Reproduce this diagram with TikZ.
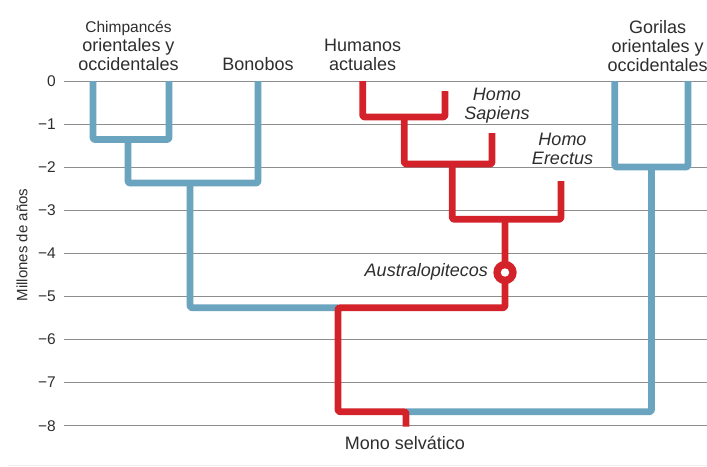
\documentclass[tikz,border=0pt]{standalone}
\usepackage{fontspec}
\setmainfont{Liberation Sans}
\definecolor{cblue}{HTML}{6AA4BF}
\definecolor{cred}{HTML}{D3222A}
\definecolor{cgrid}{HTML}{8E8E8E}
\definecolor{ctext}{HTML}{2E2E2E}
\begin{document}
\begin{tikzpicture}[x=1pt,y=-1pt,
  grid/.style={draw=cgrid,line width=1.5pt},
  blueline/.style={draw=cblue,line width=6.8pt,line join=round,rounded corners=2pt},
  redline/.style={draw=cred,line width=6.8pt,line join=round,rounded corners=2pt},
  lbl/.style={text=ctext,inner sep=0pt,font=\fontsize{18}{19}\selectfont,anchor=base},
  itl/.style={lbl,font=\fontsize{18}{19}\selectfont\itshape},
  ticklbl/.style={text=ctext,inner sep=0pt,font=\fontsize{15.5}{17}\selectfont,anchor=east}
]
\useasboundingbox (0,0) rectangle (707,466);
\fill[white] (0,0) rectangle (707,466);
% gridlines and tick labels
\foreach \v in {0,...,8}{
  \pgfmathsetmacro{\yy}{81.3+43.05*\v}
  \coordinate (g\v) at (64,\yy);
  \coordinate (h\v) at (707,\yy);
  \draw[grid] (g\v) -- (h\v);
}
\foreach \v in {0,...,8}{
  \pgfmathsetmacro{\yy}{81.3+43.05*\v}
  \ifnum\v=0
    \node[ticklbl] (t\v) at (56,\yy) {0};
  \else
    \node[ticklbl] (t\v) at (56,\yy) {−\v};
  \fi
}
\node[text=ctext,font=\fontsize{15}{17}\selectfont,rotate=90,inner sep=0pt] (ylab) at (22,245) {Millones de años};
\draw[draw=black!6,line width=1pt] (8,465.5) -- (707,465.5);

% coordinates (leaves and junctions)
\coordinate (cE) at (93,81);
\coordinate (cW) at (169,81);
\coordinate (bon) at (258,81);
\coordinate (hum) at (362.7,81);
\coordinate (sap) at (445,91);
\coordinate (ere) at (492,133);
\coordinate (aus) at (561,181);
\coordinate (gE) at (614.7,81);
\coordinate (gW) at (688,81);
\coordinate (mono) at (406,426.5);

% blue branches
\draw[blueline] (cE) -- (93,139.5) -- (169,139.5) -- (cW);
\draw[blueline] (128,139.5) -- (128,183) -- (258,183) -- (bon);
\draw[blueline] (190,183) -- (190,307.7) -- (338,307.7);
\draw[blueline] (gE) -- (614.7,167) -- (688,167) -- (gW);
\draw[blueline] (651.5,167) -- (651.5,411.7) -- (406,411.7);

% red branches
\draw[redline] (hum) -- (362.7,117) -- (445,117) -- (sap);
\draw[redline] (404.3,117) -- (404.3,164) -- (492,164) -- (ere);
\draw[redline] (452.3,164) -- (452.3,219.3) -- (561,219.3) -- (aus);
\draw[redline] (505,219.3) -- (505,307.7) -- (338,307.7) -- (338,411.7) -- (406,411.7) -- (mono);
\node[circle,fill=cred,minimum size=23.4pt,inner sep=0pt] (ring) at (505,272.5) {};
\node[circle,fill=white,minimum size=8.4pt,inner sep=0pt] (ringin) at (ring.center) {};

% labels
\node[lbl,font=\fontsize{15.5}{17}\selectfont] (chimp1) at (128.5,32.5) {Chimpancés};
\node[lbl] (chimp) at (128.5,70.5) {\begin{tabular}[b]{@{}c@{}}orientales y\\occidentales\end{tabular}};
\node[lbl] (bonl) at (258,70.7) {Bonobos};
\node[lbl] (huml) at (362.7,70.7) {\begin{tabular}[b]{@{}c@{}}Humanos\\actuales\end{tabular}};
\node[lbl] (gorl) at (657.7,71) {\begin{tabular}[b]{@{}c@{}}Gorilas\\orientales y\\occidentales\end{tabular}};
\node[itl] (sapl) at (497,119) {\begin{tabular}[b]{@{}c@{}}Homo\\Sapiens\end{tabular}};
\node[itl] (erel) at (562.5,164.3) {\begin{tabular}[b]{@{}c@{}}Homo\\Erectus\end{tabular}};
\node[itl,anchor=base east] (ausl) at (488,276.7) {Australopitecos};
\node[lbl] (monol) at (405,449) {Mono selvático};
\end{tikzpicture}
\end{document}
